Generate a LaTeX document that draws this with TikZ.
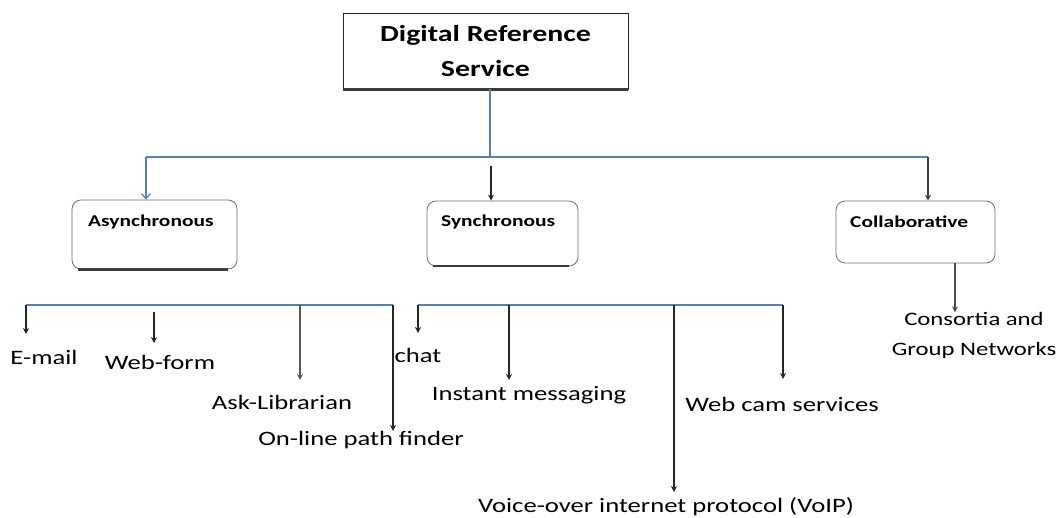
\documentclass[tikz,border=0pt]{standalone}
\usepackage{fontspec}
\setmainfont{Carlito}[FakeStretch=1.3]
\usetikzlibrary{arrows.meta}
\definecolor{busblue}{RGB}{79,129,189}
\definecolor{edgegray}{RGB}{110,110,110}
\definecolor{shadowgray}{RGB}{60,60,60}
\begin{document}
\begin{tikzpicture}[x=1pt,y=-1pt,
  rbox/.style={draw=edgegray, line width=0.8pt, rounded corners=9pt, minimum height=66pt, inner sep=0pt},
  boxtext/.style={anchor=west, inner sep=0pt, font=\fontsize{16.5}{20}\selectfont\bfseries},
  leaf/.style={inner sep=0pt, font=\fontsize{20.5}{30}\selectfont, align=center},
  bus/.style={busblue, line width=1.3pt},
  arr/.style={black!85, line width=1.3pt, -{Stealth[length=6pt,width=6pt]}},
  shadowline/.style={shadowgray, line width=2.6pt}]
\useasboundingbox (0,0) rectangle (1056,518);

% top box
\node[draw=black!85, line width=0.8pt, minimum width=285pt, minimum height=76pt, inner sep=0pt,
      font=\fontsize{23}{35}\selectfont\bfseries, align=center] (drs) at (485.5,51) {Digital Reference\\Service};
\draw[shadowline] (drs.south west) -- (drs.south east);

% second level boxes
\node[rbox, minimum width=165pt, minimum height=69pt] (async) at (154.5,234.5) {};
\draw[shadowline] ([xshift=6pt]async.south west) -- ([xshift=-9pt]async.south east);
\node[boxtext] (asynct) at (88,222) {Asynchronous};

\node[rbox, minimum width=151pt, minimum height=65pt] (sync) at (502.5,233.5) {};
\draw[shadowline, line width=1.8pt] ([xshift=6pt]sync.south west) -- ([xshift=-9pt]sync.south east);
\node[boxtext] (synct) at (441,222) {Synchronous};

\node[rbox, minimum width=159pt, minimum height=62pt] (coll) at (915.5,232) {};
\node[boxtext] (collt) at (850,222) {Collaborative};

% top connectors
\coordinate (top) at (490,88);
\coordinate (j1) at (490,157);
\coordinate (jl) at (146,157);
\coordinate (jr) at (928,157);
\coordinate (s1) at (491,166);
\coordinate (c1) at (955,0);
\draw[bus] (drs.south -| top) -- (j1) -- (jl);
\draw[bus] (j1) -- (jr);
\draw[bus, -{Straight Barb[length=5pt,width=9pt]}] (jl) -- (jl |- async.north);
\draw[arr] (s1) -- (s1 |- sync.north);
\draw[arr, black!75] (jr) -- (jr |- coll.north);

% leaves
\node[leaf] (email) at (44,357) {E-mail};
\node[leaf] (webform) at (160,362) {Web-form};
\node[leaf] (ask) at (282,402) {Ask-Librarian};
\node[leaf] (chat) at (418,355) {chat};
\node[leaf] (path) at (361,440) {On-line path finder};
\node[leaf] (im) at (529,395) {Instant messaging};
\node[leaf] (webcam) at (782,404) {Web cam services};
\node[leaf] (voip) at (666,507) {Voice-over internet protocol (VoIP)};
\node[leaf, font=\fontsize{19}{30}\selectfont] (cons) at (974,335) {Consortia and\\Group Networks};

% bottom buses
\coordinate (b1l) at (26,305);
\coordinate (b1r) at (393,305);
\coordinate (b2l) at (418,305);
\coordinate (b2r) at (783,305);
\coordinate (wf) at (154,312);
\coordinate (al) at (300,305);
\coordinate (imc) at (509,305);
\coordinate (vc) at (674,305);
\draw[bus] (b1l) -- (b1r);
\draw[bus] (b2l) -- (b2r);

% leaf arrows
\draw[arr] (b1l) -- ++(0,29);
\draw[arr] (wf) -- ++(0,31);
\draw[arr, black!65, line width=2pt] (al) -- ++(0,75);
\draw[arr] (b1r) -- ++(0,126);
\draw[arr] (b2l) -- ++(0,28);
\draw[arr] (imc) -- ++(0,75);
\draw[arr] (vc) -- ++(0,187);
\draw[arr] (b2r) -- ++(0,74);
\draw[arr, black!70] (c1 |- coll.south) -- ++(0,49);
\end{tikzpicture}
\end{document}
